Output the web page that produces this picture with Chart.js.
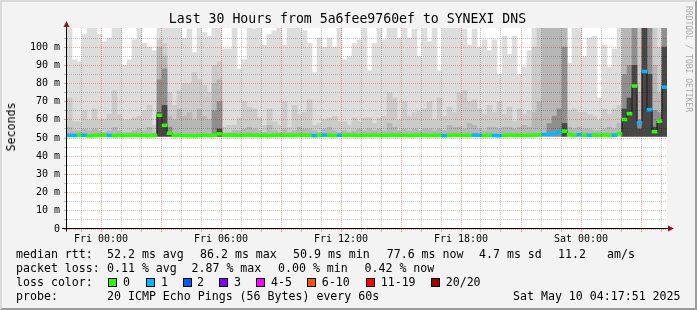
<!DOCTYPE html>
<html>
<head>
<meta charset="utf-8">
<script src="https://cdn.jsdelivr.net/npm/chart.js@4.4.1/dist/chart.umd.min.js"></script>
<style>
  body { margin: 0; background: #f3f3f3; }
  #graph { position: relative; width: 697px; height: 310px; background: #f3f3f3; overflow: hidden;
           font-family: "DejaVu Sans Mono", monospace; color: #000; }
  #frame { position: absolute; left: 0; top: 0; width: 697px; height: 310px; box-sizing: border-box; pointer-events: none;
           border-top: 2px solid #dadada; border-left: 2px solid #dadada; border-right: 2px solid #9c9c9c; border-bottom: 2px solid #9c9c9c; }
  canvas { position: absolute; left: 0; top: 0; }
  .t { position: absolute; white-space: pre; font-size: 11.6px; line-height: 14px; }
  .box { position: absolute; width: 9px; height: 9px; box-sizing: border-box; border: 1px solid #000; }
  #title { position: absolute; left: 0; top: 11px; width: 695px; text-align: center; font-size: 13.2px; line-height: 16px; white-space: pre; }
  #ylab { position: absolute; left: 10.5px; top: 127px; font-size: 11.6px; line-height: 14px; white-space: pre;
          transform: translate(-50%, -50%) rotate(-90deg); }
  #mark { position: absolute; left: 687.5px; top: 59px; font-size: 8px; line-height: 10px; white-space: pre; color: #aaaaaa;
          transform: translate(-50%, -50%) rotate(90deg); }
</style>
</head>
<body>
<div id="graph">
  <canvas id="chart" width="697" height="310"></canvas>
  <div id="title">Last 30 Hours from 5a6fee9760ef to SYNEXI DNS</div>
  <div id="ylab">Seconds</div>
  <div id="mark">RRDTOOL / TOBI OETIKER</div>
  <div id="legend"></div>
  <div id="frame"></div>
</div>
<script>
// hours counted from Fri 00:00, one slot = 15 minutes
const START_HOUR = -1.7;
const END_HOUR = 28.3;
const STEP_HOURS = 0.25;
const SMOKE_FLOOR = 51;

// smoke layers, top of each band in ms (115 = beyond the top of the graph)
const rttMax = [
  115, 93, 92, 107, 115, 115, 107, 103, 105, 115,
  115, 90, 93, 104, 115, 102, 100, 98, 115, 115,
  115, 115, 115, 105, 110, 97, 115, 108, 106, 115,
  115, 99, 99, 115, 88, 93, 115, 110, 115, 101,
  107, 109, 115, 101, 115, 115, 115, 109, 102, 86,
  105, 100, 105, 100, 115, 93, 95, 102, 104, 115,
  87, 102, 115, 104, 115, 115, 105, 115, 105, 110,
  95, 115, 103, 115, 87, 115, 115, 115, 115, 110,
  101, 110, 100, 104, 98, 104, 85, 106, 96, 106,
  85, 89, 98, 115, 115, 115, 115, 115, 115, 115,
  91, 115, 115, 95, 105, 106, 72, 101, 89, 99,
  115, 115, 115, 115, 115, 115, 115, 115, 115, 115
];
const rttHigh = [
  72, 59, 59, 65, 60, 66, 60, 60, 63, 76,
  63, 60, 60, 61, 62, 65, 68, 57, 104, 102,
  75, 68, 76, 80, 80, 86, 82, 79, 75, 90,
  92, 56, 57, 57, 61, 70, 67, 66, 61, 57,
  66, 59, 57, 70, 56, 68, 63, 64, 71, 57,
  58, 60, 61, 62, 59, 59, 57, 61, 59, 61,
  61, 58, 61, 62, 75, 72, 60, 70, 62, 64,
  65, 66, 70, 60, 72, 62, 67, 64, 75, 76,
  70, 71, 66, 63, 68, 64, 70, 63, 67, 59,
  66, 63, 65, 100, 115, 115, 115, 115, 115, 115,
  65, 66, 64, 64, 63, 62, 60, 66, 63, 66,
  68, 115, 115, 115, 115, 115, 115, 115, 100, 115
];
const rttMid = [
  56, 54, 54, 55, 54, 55, 54, 53, 54, 56,
  54, 53, 53, 54, 55, 54, 56, 53, 100, 95,
  62, 60, 66, 62, 64, 60, 66, 62, 60, 80,
  82, 53, 53, 54, 54, 55, 56, 55, 54, 53,
  57, 54, 53, 55, 53, 54, 56, 55, 55, 54,
  53, 55, 56, 54, 53, 54, 53, 54, 55, 54,
  55, 54, 55, 54, 58, 56, 54, 55, 54, 55,
  54, 55, 55, 54, 55, 54, 57, 56, 56, 55,
  58, 57, 55, 54, 56, 56, 55, 56, 56, 55,
  56, 57, 56, 64, 70, 115, 115, 115, 115, 115,
  56, 55, 56, 55, 55, 54, 54, 55, 56, 55,
  58, 115, 115, 115, 75, 115, 115, 90, 75, 115
];
const rttLow = [
  0, 0, 0, 0, 0, 0, 0, 0, 0, 0,
  0, 0, 0, 0, 0, 0, 0, 0, 82, 88,
  56, 0, 0, 0, 0, 0, 0, 0, 0, 65,
  70, 0, 0, 0, 0, 0, 0, 0, 0, 0,
  0, 0, 0, 0, 0, 0, 0, 0, 0, 0,
  0, 0, 0, 0, 0, 0, 0, 0, 0, 0,
  0, 0, 0, 0, 0, 0, 0, 0, 0, 0,
  0, 0, 0, 0, 0, 0, 0, 0, 0, 0,
  0, 0, 0, 0, 0, 0, 0, 0, 0, 0,
  0, 0, 0, 0, 0, 0, 58, 62, 66, 100,
  0, 0, 0, 0, 0, 0, 0, 0, 0, 0,
  0, 85, 90, 115, 60, 115, 115, 65, 64, 115
];
const rttCore = [
  0, 0, 0, 0, 0, 0, 0, 0, 0, 0,
  0, 0, 0, 0, 0, 0, 0, 0, 64, 68,
  53, 0, 0, 0, 0, 0, 0, 0, 0, 0,
  55, 0, 0, 0, 0, 0, 0, 0, 0, 0,
  0, 0, 0, 0, 0, 0, 0, 0, 0, 0,
  0, 0, 0, 0, 0, 0, 0, 0, 0, 0,
  0, 0, 0, 0, 0, 0, 0, 0, 0, 0,
  0, 0, 0, 0, 0, 0, 0, 0, 0, 0,
  0, 0, 0, 0, 0, 0, 0, 0, 0, 0,
  0, 0, 0, 0, 0, 0, 0, 0, 0, 58,
  0, 0, 0, 0, 0, 0, 0, 0, 0, 0,
  0, 66, 72, 90, 55, 115, 85, 56, 58, 100
];
const medianRtt = [
  51.5, 51.4, 51.6, 51.5, 51.2, 51.4, 51.5, 51.6, 51.4, 51.3,
  51.5, 51.4, 51.5, 51.6, 51.5, 51.4, 51.3, 51.5, 62.5, 57.0,
  52.6, 51.4, 51.5, 51.3, 51.3, 51.2, 51.4, 51.5, 51.4, 51.6,
  52.3, 51.5, 51.6, 51.5, 51.4, 51.5, 51.6, 51.5, 51.4, 51.5,
  51.3, 51.5, 51.6, 51.5, 51.5, 51.4, 51.6, 51.5, 51.5, 51.3,
  51.5, 51.6, 51.5, 51.4, 51.5, 51.5, 51.6, 51.5, 51.4, 51.5,
  51.5, 51.6, 51.5, 51.4, 51.5, 51.6, 51.5, 51.5, 51.4, 51.5,
  51.6, 51.5, 51.4, 51.5, 51.5, 51.3, 51.5, 51.6, 51.5, 51.4,
  51.5, 51.6, 51.5, 51.4, 51.5, 51.4, 51.3, 51.5, 51.6, 51.5,
  51.5, 51.4, 51.5, 51.6, 51.7, 51.9, 52.2, 52.4, 53.3, 53.8,
  51.9, 51.6, 51.8, 51.6, 51.5, 51.6, 51.5, 51.7, 51.5, 51.6,
  52.4, 60.2, 63.4, 78.6, 58.4, 86.6, 65.6, 53.5, 59.3, 78.0
];
const lossCount = [
  1, 1, 0, 1, 0, 0, 0, 0, 1, 0,
  0, 0, 0, 0, 0, 0, 0, 0, 0, 0,
  0, 0, 0, 0, 0, 0, 0, 0, 0, 0,
  0, 0, 0, 0, 0, 0, 0, 0, 0, 0,
  0, 0, 0, 0, 0, 0, 0, 0, 0, 1,
  0, 1, 0, 0, 1, 0, 0, 0, 0, 0,
  0, 0, 0, 0, 0, 0, 0, 0, 0, 0,
  0, 0, 0, 0, 0, 1, 0, 0, 0, 0,
  0, 1, 1, 0, 0, 1, 1, 0, 0, 0,
  0, 0, 0, 0, 0, 1, 1, 1, 1, 0,
  0, 0, 1, 0, 1, 0, 0, 0, 0, 1,
  0, 0, 0, 0, 1, 1, 1, 0, 0, 1
];

const lossLabels = ['0', '1', '2', '3', '4-5', '6-10', '11-19', '20/20'];
const lossColors = ['#26ff00', '#00b8ff', '#0059ff', '#7e00ff', '#ff00ff', '#ff5500', '#ff0000', '#a10000'];

const xTickHours = [];
for (let h = -1; h <= 28; h++) xTickHours.push(h);
const xLabelHours = [0, 6, 12, 18, 24];
const xLabels = ['Fri 00:00', 'Fri 06:00', 'Fri 12:00', 'Fri 18:00', 'Sat 00:00'];
const yTicks = [];
for (let v = 0; v <= 105; v += 5) yTicks.push(v);

const RED = 'rgba(255,0,0,0.35)';
const GRAY = 'rgba(0,0,0,0.2)';
const MONO = '"DejaVu Sans Mono", monospace';

// legend text rows
const statRows = [
  [254, [[16, 'median rtt:'], [107, '52.2 ms avg'], [200, '86.2 ms max'], [293, '50.9 ms min'],
         [386.7, '77.6 ms now'], [479, '4.7 ms sd'], [558, '11.2'], [607, 'am/s']]],
  [268, [[16, 'packet loss:'], [107, '0.11 % avg'], [191.5, '2.87 % max'], [278, '0.00 % min'], [364.5, '0.42 % now']]],
  [282, [[16, 'loss color:']]],
  [296, [[16, 'probe:'], [107, '20 ICMP Echo Pings (56 Bytes) every 60s'], [513, 'Sat May 10 04:17:51 2025']]]
];
const lossBoxX = [108, 145.7, 182.7, 219, 256, 306.7, 365.7, 430.7];
const lossTextX = [123, 161, 197, 234, 271, 321.7, 380.7, 445.7];

const legend = document.getElementById('legend');
statRows.forEach(([cy, items]) => {
  items.forEach(([x, s]) => {
    const d = document.createElement('div');
    d.className = 't';
    d.style.left = x + 'px';
    d.style.top = (cy - 7) + 'px';
    d.textContent = s;
    legend.appendChild(d);
  });
});
lossLabels.forEach((lab, i) => {
  const b = document.createElement('div');
  b.className = 'box';
  b.style.left = lossBoxX[i] + 'px';
  b.style.top = '278px';
  b.style.background = lossColors[i];
  legend.appendChild(b);
  const d = document.createElement('div');
  d.className = 't';
  d.style.left = lossTextX[i] + 'px';
  d.style.top = '275px';
  d.textContent = lab;
  legend.appendChild(d);
});

const slotHour = medianRtt.map((_, i) => START_HOUR + (i + 0.5) * STEP_HOURS);
const band = (arr) => arr.map((v, i) => ({ x: slotHour[i], y: v > SMOKE_FLOOR ? [SMOKE_FLOOR, v] : null }));
const smoke = (data, color, order) => ({
  type: 'bar', data: band(data), backgroundColor: color, borderWidth: 0,
  grouped: false, barPercentage: 1, categoryPercentage: 1, order
});

const plotFrame = {
  id: 'plotFrame',
  beforeDraw(chart) {
    const { ctx, chartArea: a } = chart;
    ctx.save();
    ctx.fillStyle = '#ffffff';
    ctx.fillRect(a.left, a.top, a.right - a.left, a.bottom - a.top);
    ctx.restore();
  },
  afterDraw(chart) {
    const { ctx, chartArea: a } = chart;
    const y0 = Math.round(chart.scales.y.getPixelForValue(0)) - 0.5;
    const x0 = a.left - 0.5;
    ctx.save();
    ctx.strokeStyle = '#000';
    ctx.lineWidth = 1;
    ctx.beginPath();
    ctx.moveTo(a.left - 5, y0); ctx.lineTo(a.right + 2, y0);
    ctx.moveTo(x0, y0 + 3); ctx.lineTo(x0, a.top - 2);
    ctx.stroke();
    ctx.fillStyle = '#8e1515';
    ctx.beginPath();
    ctx.moveTo(x0, a.top - 7); ctx.lineTo(x0 - 3, a.top - 1); ctx.lineTo(x0 + 3, a.top - 1);
    ctx.closePath(); ctx.fill();
    ctx.beginPath();
    ctx.moveTo(a.right + 7, y0); ctx.lineTo(a.right + 1, y0 - 3); ctx.lineTo(a.right + 1, y0 + 3);
    ctx.closePath(); ctx.fill();
    ctx.restore();
  }
};

new Chart(document.getElementById('chart'), {
  type: 'bar',
  data: {
    datasets: [
      {
        type: 'bar',
        data: medianRtt.map((m, i) => ({ x: slotHour[i], y: [m - 0.8, m + 0.8] })),
        backgroundColor: lossCount.map(l => lossColors[l]),
        borderWidth: 0, grouped: false, barPercentage: 1, categoryPercentage: 1, order: 0
      },
      {
        type: 'line',
        data: medianRtt.map((m, i) => ({ x: slotHour[i], y: m })),
        borderColor: '#1a1a1a', borderWidth: 1, stepped: 'middle', pointRadius: 0, fill: false, order: 1
      },
      smoke(rttCore, '#474747', 2),
      smoke(rttLow, '#8f8f8f', 3),
      smoke(rttMid, '#b7b7b7', 4),
      smoke(rttHigh, '#cbcbcb', 5),
      smoke(rttMax, '#dddddd', 6)
    ]
  },
  options: {
    responsive: false,
    animation: false,
    devicePixelRatio: 1,
    layout: { padding: { left: 0, right: 30, top: 28, bottom: 0 } },
    plugins: { legend: { display: false }, tooltip: { enabled: false } },
    scales: {
      x: {
        type: 'linear', min: START_HOUR, max: END_HOUR, offset: false,
        afterBuildTicks: s => { s.ticks = xTickHours.map(v => ({ value: v })); },
        afterFit: s => { s.height = 81; },
        ticks: {
          autoSkip: false, maxRotation: 0, minRotation: 0, padding: 1, color: '#000',
          font: { family: MONO, size: 10 },
          callback: v => { const k = xLabelHours.indexOf(v); return k < 0 ? '' : xLabels[k]; }
        },
        grid: { z: 1, offset: false, tickLength: 3, color: c => (c.tick && c.tick.value % 3 === 0 ? RED : GRAY) },
        border: { display: false, dash: [1, 1] }
      },
      y: {
        min: 0, max: 110.5,
        afterBuildTicks: s => { s.ticks = yTicks.map(v => ({ value: v })); },
        afterFit: s => { s.width = 67; },
        ticks: {
          autoSkip: false, padding: 4, color: '#000',
          font: { family: MONO, size: 10 },
          callback: v => (v % 10 ? '' : (v === 0 ? '0' : v + ' m'))
        },
        grid: { z: 1, tickLength: 3, color: c => (c.tick && c.tick.value % 10 === 0 ? RED : GRAY) },
        border: { display: false, dash: [1, 1] }
      }
    }
  },
  plugins: [plotFrame]
});
</script>
</body>
</html>
